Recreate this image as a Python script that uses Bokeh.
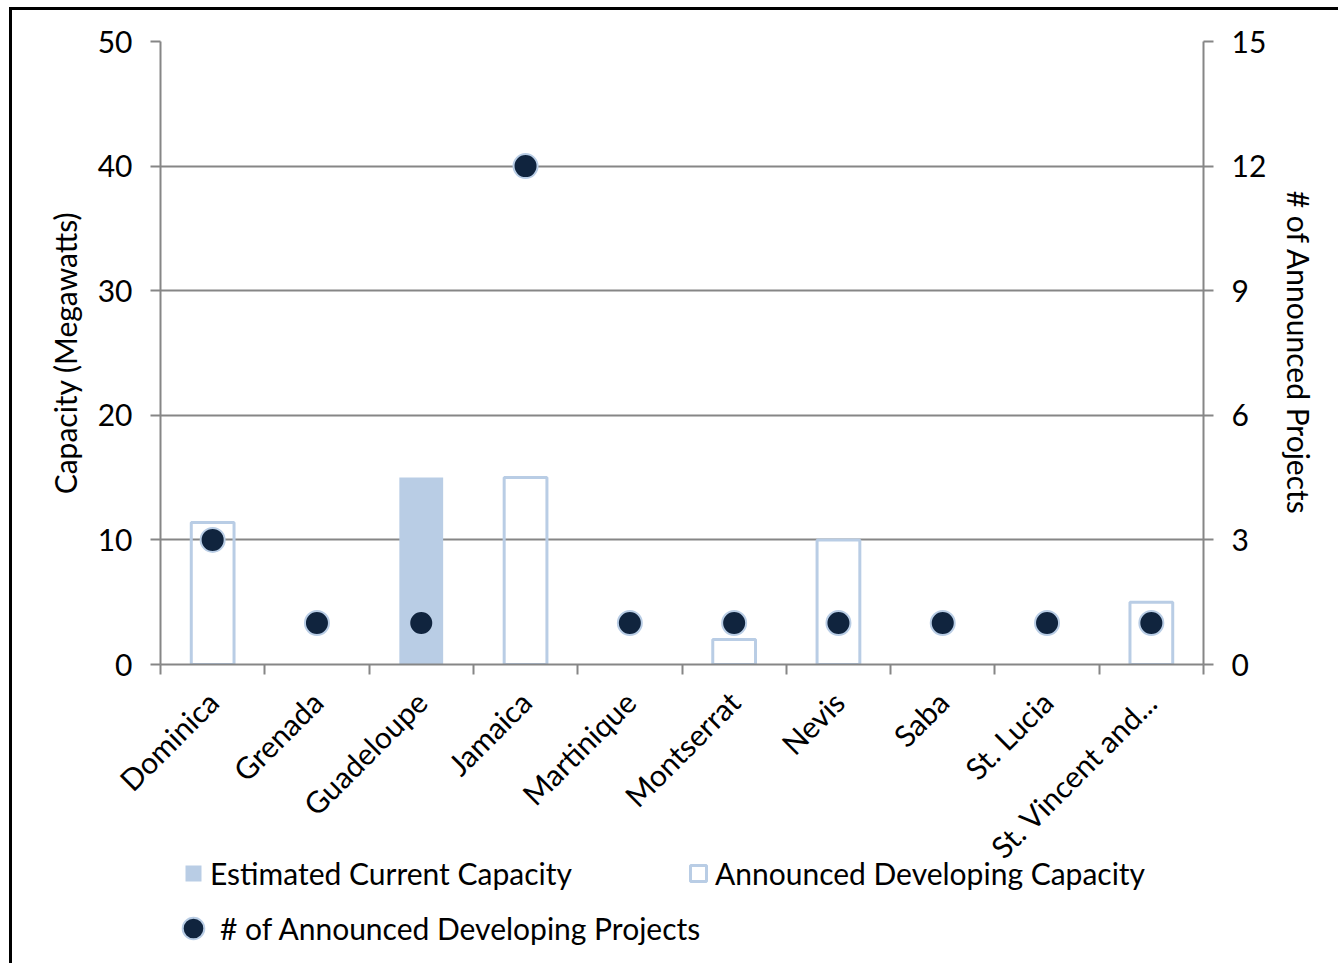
import math

from bokeh.embed import file_html
from bokeh.layouts import column
from bokeh.models import (ColumnDataSource, FixedTicker, Legend, LegendItem,
                          LinearAxis, Range1d)
from bokeh.plotting import figure
from bokeh.resources import INLINE

# ---- data -------------------------------------------------------------
islands = ["Dominica", "Grenada", "Guadeloupe", "Jamaica", "Martinique",
           "Montserrat", "Nevis", "Saba", "St. Lucia", "St. Vincent and..."]
current_capacity_mw = [0, 0, 15, 0, 0, 0, 0, 0, 0, 0]
developing_capacity_mw = [11.4, 0, 0, 15, 0, 2, 10, 0, 0, 5]
developing_projects = [3, 1, 1, 12, 1, 1, 1, 1, 1, 1]

capacity_ticks = [0, 10, 20, 30, 40, 50]
project_ticks = [0, 3, 6, 9, 12, 15]

series_names = ["Estimated Current Capacity", "Announced Developing Capacity",
                "# of Announced Developing Projects"]
left_title = "Capacity (Megawatts)"
right_title = "# of Announced Projects"

# ---- styling ----------------------------------------------------------
FONT = "Lato"
FS = "30px"
BAR_BLUE = "#B9CDE5"
NAVY = "#10243E"
GRID = "#868686"

WIDTH = 1326
TOP, FRAME_H, BOTTOM = 31, 625, 214
MAIN_H = TOP + FRAME_H + BOTTOM
OVERLAP = 30
LEGEND_H = 953 - MAIN_H + OVERLAP

centers = [i + 0.5 for i in range(len(islands))]

p = figure(width=WIDTH, height=MAIN_H, output_backend="svg", toolbar_location=None,
           x_range=Range1d(0, len(islands)), y_range=Range1d(0, 50),
           x_axis_location=None,
           min_border_left=148, min_border_right=135, min_border_top=TOP,
           min_border_bottom=BOTTOM, outline_line_color=None,
           background_fill_color="white", border_fill_color="white")
p.xgrid.visible = False

# category axis: labels at bar centres, tick marks at category edges
xaxis = LinearAxis(ticker=FixedTicker(ticks=centers,
                                      minor_ticks=list(range(len(islands) + 1))),
                   major_label_overrides={c: name for c, name in zip(centers, islands)})
xaxis.major_label_orientation = math.pi / 4
xaxis.major_tick_out = 0
xaxis.major_tick_in = 0
xaxis.minor_tick_out = 10
xaxis.minor_tick_in = 0
xaxis.minor_tick_line_color = GRID
xaxis.minor_tick_line_width = 2
xaxis.axis_line_color = GRID
xaxis.axis_line_width = 2
xaxis.major_label_standoff = 22
xaxis.major_label_text_font = FONT
xaxis.major_label_text_font_size = FS
xaxis.major_label_text_color = "black"
p.add_layout(xaxis, "below")

# left axis: capacity
yl = p.yaxis[0]
yl.ticker = FixedTicker(ticks=capacity_ticks)
yl.axis_label = left_title

# right axis: number of projects
p.extra_y_ranges = {"projects": Range1d(0, 15)}
yr = LinearAxis(y_range_name="projects", ticker=FixedTicker(ticks=project_ticks),
                axis_label=right_title)
p.add_layout(yr, "right")

for ax in (yl, yr):
    ax.major_tick_out = 10
    ax.major_tick_in = 0
    ax.minor_tick_out = 0
    ax.minor_tick_in = 0
    ax.major_tick_line_color = GRID
    ax.major_tick_line_width = 2
    ax.axis_line_color = GRID
    ax.axis_line_width = 2
    ax.major_label_standoff = 18
    ax.major_label_text_font = FONT
    ax.major_label_text_font_size = FS
    ax.major_label_text_color = "black"
    ax.axis_label_text_font = FONT
    ax.axis_label_text_font_size = FS
    ax.axis_label_text_font_style = "normal"
    ax.axis_label_text_color = "black"
    ax.axis_label_standoff = 12

p.ygrid.ticker = FixedTicker(ticks=capacity_ticks)
p.ygrid.grid_line_color = GRID
p.ygrid.grid_line_width = 2

# ---- glyphs -----------------------------------------------------------
cur_src = ColumnDataSource(dict(
    x=[c for c, v in zip(centers, current_capacity_mw) if v > 0],
    top=[v for v in current_capacity_mw if v > 0]))
dev_src = ColumnDataSource(dict(
    x=[c for c, v in zip(centers, developing_capacity_mw) if v > 0],
    top=[v for v in developing_capacity_mw if v > 0]))
proj_src = ColumnDataSource(dict(x=centers, y=developing_projects))

BAR_FILLED = dict(fill_color=BAR_BLUE, line_color=None)
BAR_OUTLINE = dict(fill_color=None, line_color=BAR_BLUE, line_width=3)
DOT = dict(size=24, fill_color=NAVY, line_color=BAR_BLUE, line_width=2)

p.vbar(x="x", top="top", width=0.42, bottom=0, source=cur_src, **BAR_FILLED)
p.vbar(x="x", top="top", width=0.41, bottom=0, source=dev_src, **BAR_OUTLINE)
p.scatter(x="x", y="y", source=proj_src, y_range_name="projects", **DOT)

# ---- legend strip under the category labels -----------------------------
lg = figure(width=WIDTH, height=LEGEND_H, output_backend="svg", toolbar_location=None,
            x_range=Range1d(0, len(islands)), y_range=Range1d(0, 50),
            x_axis_location=None, y_axis_location=None,
            min_border=0, outline_line_color=None,
            background_fill_alpha=0, border_fill_alpha=0,
            styles={"margin-top": f"-{OVERLAP}px"})
lg.grid.visible = False
# hidden copies of the series, used only as legend keys
k_cur = lg.vbar(x="x", top="top", width=0.42, bottom=0, source=cur_src,
                visible=False, **BAR_FILLED)
k_dev = lg.vbar(x="x", top="top", width=0.41, bottom=0, source=dev_src,
                visible=False, **BAR_OUTLINE)
k_proj = lg.scatter(x="x", y="y", source=proj_src, visible=False, **DOT)

LEG = dict(orientation="horizontal", padding=0, margin=0,
           label_height=36, label_text_font=FONT, label_text_font_size=FS,
           label_text_color="black", border_line_color=None,
           background_fill_alpha=0, inactive_fill_alpha=0)

lg.add_layout(Legend(items=[LegendItem(label=series_names[0], renderers=[k_cur]),
                            LegendItem(label=series_names[1], renderers=[k_dev])],
                     location=(23, 72), spacing=116, label_standoff=7,
                     glyph_width=20, glyph_height=20, **LEG), "center")
# markers are keyed at 40% of the glyph box, so the box is widened for the dot
lg.add_layout(Legend(items=[LegendItem(label=series_names[2], renderers=[k_proj])],
                     location=(6, 8), spacing=0, label_standoff=0,
                     glyph_width=54, glyph_height=54, **LEG), "center")

root = column(p, lg, spacing=0,
              styles={"border-left": "3px solid black",
                      "border-top": "3px solid black",
                      "margin-left": "9px", "margin-top": "7px"})

open("out.html", "w").write(file_html(root, INLINE))
